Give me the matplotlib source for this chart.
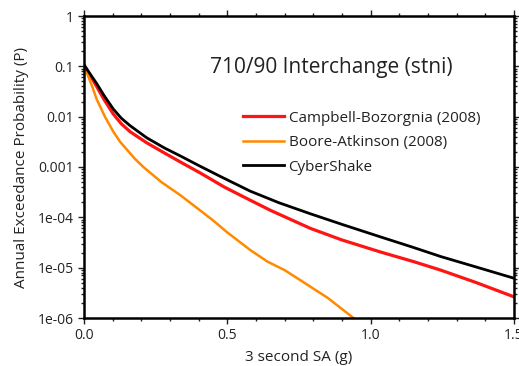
import numpy as np
import matplotlib
matplotlib.use("Agg")
import matplotlib.pyplot as plt
from matplotlib.ticker import FixedLocator, MultipleLocator, LogLocator, NullFormatter

plt.rcParams['font.family'] = ['Open Sans', 'DejaVu Sans']

# hazard curves (x in g, y as log10 of probability)
cb_x = [0.0, 0.02, 0.044, 0.07, 0.1025, 0.13, 0.161, 0.219, 0.28, 0.336, 0.406,
        0.49, 0.58, 0.65, 0.79, 0.9, 1.035, 1.15, 1.245, 1.37, 1.5]
cb_log = [-0.97, -1.16, -1.40, -1.66, -1.95, -2.14, -2.30, -2.52, -2.72, -2.90, -3.12,
          -3.40, -3.66, -3.86, -4.22, -4.45, -4.69, -4.88, -5.05, -5.30, -5.58]

ba_x = [0.0, 0.015, 0.03, 0.044, 0.073, 0.1025, 0.126, 0.178, 0.207, 0.27, 0.336,
        0.4, 0.45, 0.5, 0.58, 0.64, 0.7, 0.755, 0.85, 0.94]
ba_log = [-0.97, -1.2, -1.42, -1.65, -2.0, -2.3, -2.5, -2.84, -3.0, -3.3, -3.56,
          -3.84, -4.06, -4.3, -4.65, -4.88, -5.05, -5.25, -5.6, -6.0]

cs_x = [0.0, 0.02, 0.044, 0.07, 0.1025, 0.13, 0.161, 0.219, 0.28, 0.336, 0.4,
        0.48, 0.58, 0.68, 0.79, 0.9, 1.035, 1.15, 1.245, 1.37, 1.5]
cs_log = [-0.97, -1.14, -1.34, -1.58, -1.85, -2.03, -2.18, -2.42, -2.62, -2.78, -2.97,
          -3.2, -3.48, -3.71, -3.93, -4.14, -4.39, -4.60, -4.78, -4.99, -5.21]

yticks = [1, 0.1, 0.01, 0.001, 1e-4, 1e-5, 1e-6]
ytick_labels = ["1", "0.1", "0.01", "0.001", "1e-04", "1e-05", "1e-06"]
xticks = [0.0, 0.5, 1.0, 1.5]
xtick_labels = ["0.0", "0.5", "1.0", "1.5"]

fig = plt.figure(figsize=(5.19, 3.66), dpi=100)
ax = fig.add_axes([84 / 519, 48 / 366, 430 / 519, 302 / 366])

ax.plot(cb_x, 10 ** np.array(cb_log), color="#ff1414", lw=2.3, label="Campbell-Bozorgnia (2008)")
ax.plot(ba_x, 10 ** np.array(ba_log), color="#ff8a00", lw=1.8, label="Boore-Atkinson (2008)")
ax.plot(cs_x, 10 ** np.array(cs_log), color="black", lw=2.0, label="CyberShake")

ax.set_yscale("log")
ax.set_xlim(0, 1.5)
ax.set_ylim(1e-6, 1)

ax.yaxis.set_major_locator(FixedLocator(yticks))
ax.set_yticklabels(ytick_labels)
ax.yaxis.set_minor_locator(LogLocator(base=10, subs=np.arange(2, 10)))
ax.yaxis.set_minor_formatter(NullFormatter())
ax.set_xticks(xticks)
ax.set_xticklabels(xtick_labels)
ax.xaxis.set_minor_locator(MultipleLocator(0.1))

ax.tick_params(which="both", direction="out", top=True, right=True, width=1.0, labelsize=10, colors="#222222")
ax.tick_params(which="major", length=4)
ax.tick_params(which="minor", length=2)
for s in ax.spines.values():
    s.set_linewidth(1.8)

ax.set_xlabel("3 second SA (g)", fontsize=11, color="#222222", labelpad=5)
ax.set_ylabel("Annual Exceedance Probability (P)", fontsize=11, color="#222222", labelpad=6)

ax.text(0.575, 0.83, "710/90 Interchange (stni)", transform=ax.transAxes, ha="center", va="center",
        fontsize=15, color="#222222")

leg = ax.legend(loc="upper left", bbox_to_anchor=(0.355, 0.707), frameon=False, fontsize=11,
                handlelength=2.7, handletextpad=0.3, labelspacing=0.62, borderaxespad=0)
for t in leg.get_texts():
    t.set_color("#222222")

fig.savefig("out.png", dpi=100)
